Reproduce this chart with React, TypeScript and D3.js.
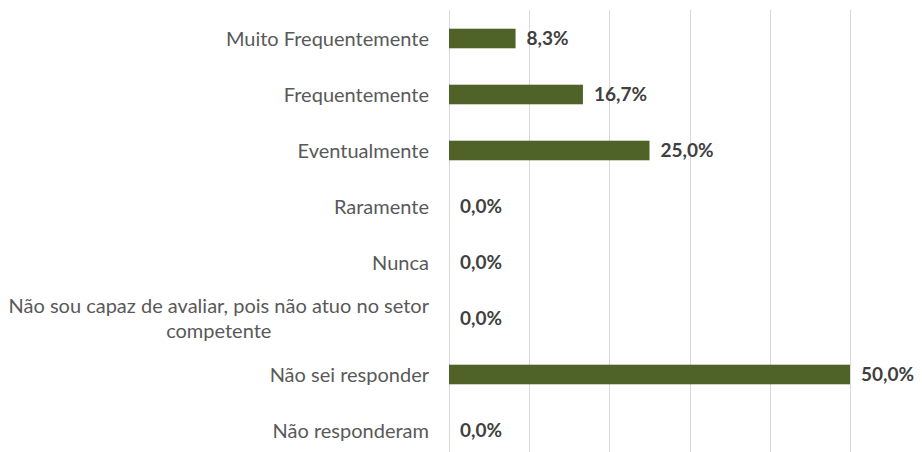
import React, { useRef, useEffect } from 'react';
import * as d3 from 'd3';

// categorias e percentuais
const categories = [
  'Muito Frequentemente',
  'Frequentemente',
  'Eventualmente',
  'Raramente',
  'Nunca',
  'Não sou capaz de avaliar, pois não atuo no setor competente',
  'Não sei responder',
  'Não responderam',
];
const values = [8.3, 16.7, 25.0, 0.0, 0.0, 0.0, 50.0, 0.0];
const ticks = [0, 10, 20, 30, 40, 50];

const width = 922;
const height = 452;

const App = () => {
  const ref = useRef<SVGSVGElement>(null);

  useEffect(() => {
    const svg = d3.select(ref.current);
    svg.selectAll('*').remove();

    const x = d3.scaleLinear().domain([0, 50]).range([449, 850]);
    const y = d3.scaleBand<string>()
      .domain(categories)
      .range([10.5, 458.5])
      .paddingInner(0.65)
      .paddingOuter(0.325);

    // linhas de grade
    svg.append('g')
      .selectAll('line')
      .data(ticks)
      .enter().append('line')
        .attr('x1', d => Math.round(x(d)) + 0.5)
        .attr('x2', d => Math.round(x(d)) + 0.5)
        .attr('y1', 10)
        .attr('y2', height)
        .attr('stroke', '#d9d9d9')
        .attr('stroke-width', 1);

    const data = categories.map((c, i) => ({ name: c, value: values[i] }));

    // barras
    svg.append('g')
      .selectAll('rect')
      .data(data)
      .enter().append('rect')
        .attr('x', x(0))
        .attr('y', d => y(d.name)!)
        .attr('width', d => x(d.value) - x(0))
        .attr('height', y.bandwidth())
        .attr('fill', '#4f6228');

    // rótulos de valores
    svg.append('g')
      .selectAll('text')
      .data(data)
      .enter().append('text')
        .attr('x', d => x(d.value) + 11)
        .attr('y', d => y(d.name)! + y.bandwidth() / 2)
        .attr('dy', '0.36em')
        .attr('font-family', 'Lato, sans-serif')
        .attr('font-weight', 'bold')
        .attr('font-size', 19)
        .attr('fill', '#404040')
        .text(d => d.value.toFixed(1).replace('.', ',') + '%');

    // rótulos das categorias (com quebra de linha)
    const maxW = 425;
    const lineH = 25;
    const labels = svg.append('g');
    categories.forEach(c => {
      const t = labels.append('text')
        .attr('font-family', 'Lato, sans-serif')
        .attr('font-size', 20)
        .attr('fill', '#595959')
        .attr('text-anchor', 'end');
      const words = c.split(' ');
      const lines: string[] = [];
      let cur = '';
      const probe = t.append('tspan');
      words.forEach(w => {
        const test = cur ? cur + ' ' + w : w;
        probe.text(test);
        if ((probe.node() as SVGTSpanElement).getComputedTextLength() > maxW && cur) {
          lines.push(cur);
          cur = w;
        } else {
          cur = test;
        }
      });
      lines.push(cur);
      probe.remove();
      const widths = lines.map(l => {
        const p = t.append('tspan').text(l);
        const w = (p.node() as SVGTSpanElement).getComputedTextLength();
        p.remove();
        return w;
      });
      const blockW = d3.max(widths)!;
      const cy = y(c)! + y.bandwidth() / 2;
      const y0 = cy - ((lines.length - 1) * lineH) / 2;
      lines.forEach((l, i) => {
        t.append('tspan')
          .attr('x', 429 - (blockW - widths[i]) / 2)
          .attr('y', y0 + i * lineH)
          .attr('dy', '0.36em')
          .text(l);
      });
    });
  }, []);

  return (
    <svg
      ref={ref}
      width={width}
      height={height}
      style={{ position: 'absolute', left: 0, top: 0, background: '#fff' }}
    ></svg>
  );
};

export default App;
